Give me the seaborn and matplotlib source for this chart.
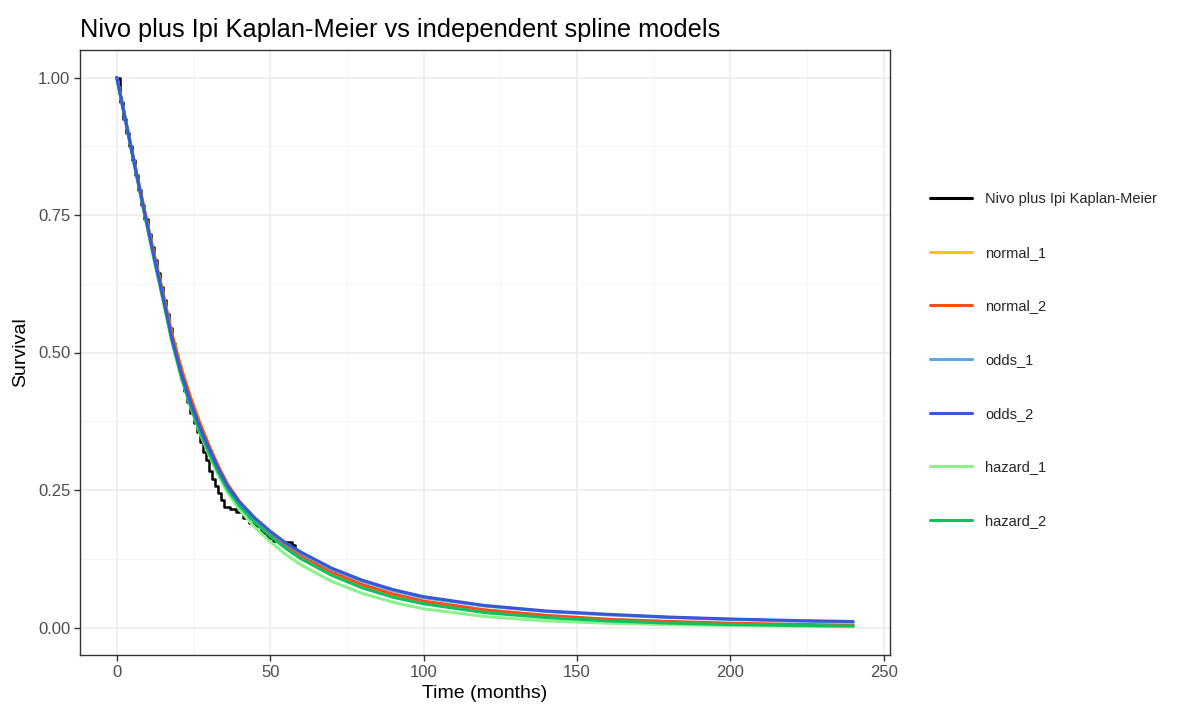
import numpy as np
import pandas as pd
import matplotlib
matplotlib.use("Agg")
import matplotlib.pyplot as plt
import seaborn as sns
from matplotlib.ticker import MultipleLocator

# ---------------- data ----------------
km_time = [0, 1, 2, 3, 4, 5, 6, 7, 8, 9, 10, 11, 12, 13, 14, 15, 16, 17, 18, 19,
           20, 21, 22, 23, 24, 25, 26, 27, 28, 29, 30, 31, 32, 33, 34, 35, 37, 39,
           41, 43, 45, 47, 49, 51, 53, 55, 57, 58, 59]
km_surv = [1.000, 0.955, 0.925, 0.900, 0.875, 0.850, 0.822, 0.795, 0.768, 0.742,
           0.716, 0.692, 0.668, 0.645, 0.620, 0.595, 0.570, 0.545, 0.518, 0.495,
           0.475, 0.452, 0.430, 0.410, 0.390, 0.372, 0.355, 0.337, 0.320, 0.305,
           0.285, 0.270, 0.258, 0.245, 0.232, 0.220, 0.215, 0.210, 0.200, 0.190,
           0.184, 0.172, 0.162, 0.157, 0.155, 0.155, 0.150, 0.140, 0.133]

model_time = [0, 3, 6, 9, 12, 15, 18, 21, 24, 27, 30, 33, 36, 40, 45, 50, 55, 60,
              70, 80, 90, 100, 120, 140, 160, 180, 200, 220, 240]
normal_1 = [1.000, 0.919, 0.838, 0.760, 0.684, 0.610, 0.535, 0.473, 0.420, 0.374,
            0.332, 0.294, 0.261, 0.228, 0.196, 0.170, 0.147, 0.128, 0.098, 0.075,
            0.058, 0.045, 0.029, 0.020, 0.013, 0.009, 0.0062, 0.0045, 0.0032]
normal_2 = [1.000, 0.919, 0.838, 0.759, 0.682, 0.608, 0.532, 0.470, 0.418, 0.372,
            0.331, 0.294, 0.261, 0.229, 0.198, 0.172, 0.150, 0.131, 0.101, 0.078,
            0.061, 0.048, 0.032, 0.022, 0.015, 0.011, 0.0078, 0.0058, 0.0042]
odds_1 = [1.000, 0.918, 0.835, 0.755, 0.677, 0.602, 0.524, 0.461, 0.409, 0.364,
          0.325, 0.289, 0.257, 0.227, 0.198, 0.174, 0.153, 0.135, 0.106, 0.084,
          0.067, 0.054, 0.039, 0.029, 0.023, 0.018, 0.0145, 0.0118, 0.0098]
odds_2 = [1.000, 0.918, 0.836, 0.756, 0.678, 0.603, 0.525, 0.462, 0.410, 0.365,
          0.326, 0.290, 0.258, 0.228, 0.199, 0.175, 0.154, 0.137, 0.108, 0.086,
          0.069, 0.056, 0.040, 0.030, 0.024, 0.019, 0.0155, 0.0128, 0.0108]
hazard_1 = [1.000, 0.917, 0.833, 0.752, 0.673, 0.597, 0.519, 0.455, 0.401, 0.354,
            0.314, 0.278, 0.246, 0.214, 0.182, 0.156, 0.133, 0.114, 0.084, 0.062,
            0.046, 0.034, 0.020, 0.012, 0.0078, 0.0052, 0.0035, 0.0024, 0.0016]
hazard_2 = [1.000, 0.917, 0.834, 0.753, 0.674, 0.598, 0.520, 0.456, 0.403, 0.357,
            0.318, 0.283, 0.252, 0.221, 0.191, 0.166, 0.144, 0.125, 0.095, 0.072,
            0.055, 0.043, 0.027, 0.018, 0.012, 0.008, 0.0055, 0.0038, 0.0026]

km_label = "Nivo plus Ipi Kaplan-Meier"
model_names = ["normal_1", "normal_2", "odds_1", "odds_2", "hazard_1", "hazard_2"]
model_values = [normal_1, normal_2, odds_1, odds_2, hazard_1, hazard_2]
colors = {
    km_label: "#000000",
    "normal_1": "#FFC20E",
    "normal_2": "#FF4E1A",
    "odds_1": "#5AA9E6",
    "odds_2": "#3858D6",
    "hazard_1": "#8CF08C",
    "hazard_2": "#10C060",
}
x_ticks = [0, 50, 100, 150, 200, 250]
y_ticks = [0.00, 0.25, 0.50, 0.75, 1.00]
y_tick_labels = ["0.00", "0.25", "0.50", "0.75", "1.00"]

# ---------------- figure ----------------
sns.set_theme(style="white")
plt.rcParams["font.family"] = ["Liberation Sans", "DejaVu Sans"]

fig = plt.figure(figsize=(11.79, 7.20), dpi=100)
ax = fig.add_axes([80 / 1179, 1 - 655 / 720, (890 - 80) / 1179, (655 - 50) / 720])

km_df = pd.DataFrame({"time": km_time, "surv": km_surv})
sns.lineplot(data=km_df, x="time", y="surv", ax=ax, color=colors[km_label],
             drawstyle="steps-post", linewidth=1.8, estimator=None, sort=False,
             label=km_label, zorder=3)

zorders = {"normal_1": 4, "normal_2": 5, "odds_1": 6, "odds_2": 9,
           "hazard_1": 7, "hazard_2": 8}
for name, vals in zip(model_names, model_values):
    df = pd.DataFrame({"time": model_time, "surv": vals})
    sns.lineplot(data=df, x="time", y="surv", ax=ax, color=colors[name],
                 linewidth=2.2, estimator=None, sort=False, label=name,
                 zorder=zorders[name])

ax.set_xlim(-12, 252)
ax.set_ylim(-0.05, 1.05)
ax.set_xticks(x_ticks)
ax.set_yticks(y_ticks)
ax.set_yticklabels(y_tick_labels)
ax.xaxis.set_minor_locator(MultipleLocator(25))
ax.yaxis.set_minor_locator(MultipleLocator(0.125))
ax.grid(which="major", color="#EBEBEB", linewidth=1.1, zorder=0)
ax.grid(which="minor", color="#F2F2F2", linewidth=0.6, zorder=0)
ax.set_axisbelow(True)
for s in ax.spines.values():
    s.set_color("#333333")
    s.set_linewidth(1.0)
ax.tick_params(axis="both", which="major", length=4, width=1, color="#333333",
               labelsize=12, labelcolor="#4D4D4D", pad=3, bottom=True, left=True)
ax.tick_params(which="minor", length=0)
ax.set_xlabel("Time (months)", fontsize=14, color="#000000", labelpad=4)
ax.set_ylabel("Survival", fontsize=14, color="#000000", labelpad=6)

fig.text(80 / 1179, 1 - 30 / 720, "Nivo plus Ipi Kaplan-Meier vs independent spline models",
         fontsize=18.3, ha="left", va="center", color="#000000")

handles, labels = ax.get_legend_handles_labels()
leg = ax.legend(handles, labels, loc="upper left",
                bbox_to_anchor=(930 / 1179, 1 - 192 / 720), bbox_transform=fig.transFigure,
                frameon=False, fontsize=10.5, handlelength=2.9, handletextpad=0.9,
                labelspacing=2.72, borderpad=0, borderaxespad=0)
for line in leg.get_lines():
    line.set_linewidth(2.2)

fig.savefig("out.png", dpi=100)
